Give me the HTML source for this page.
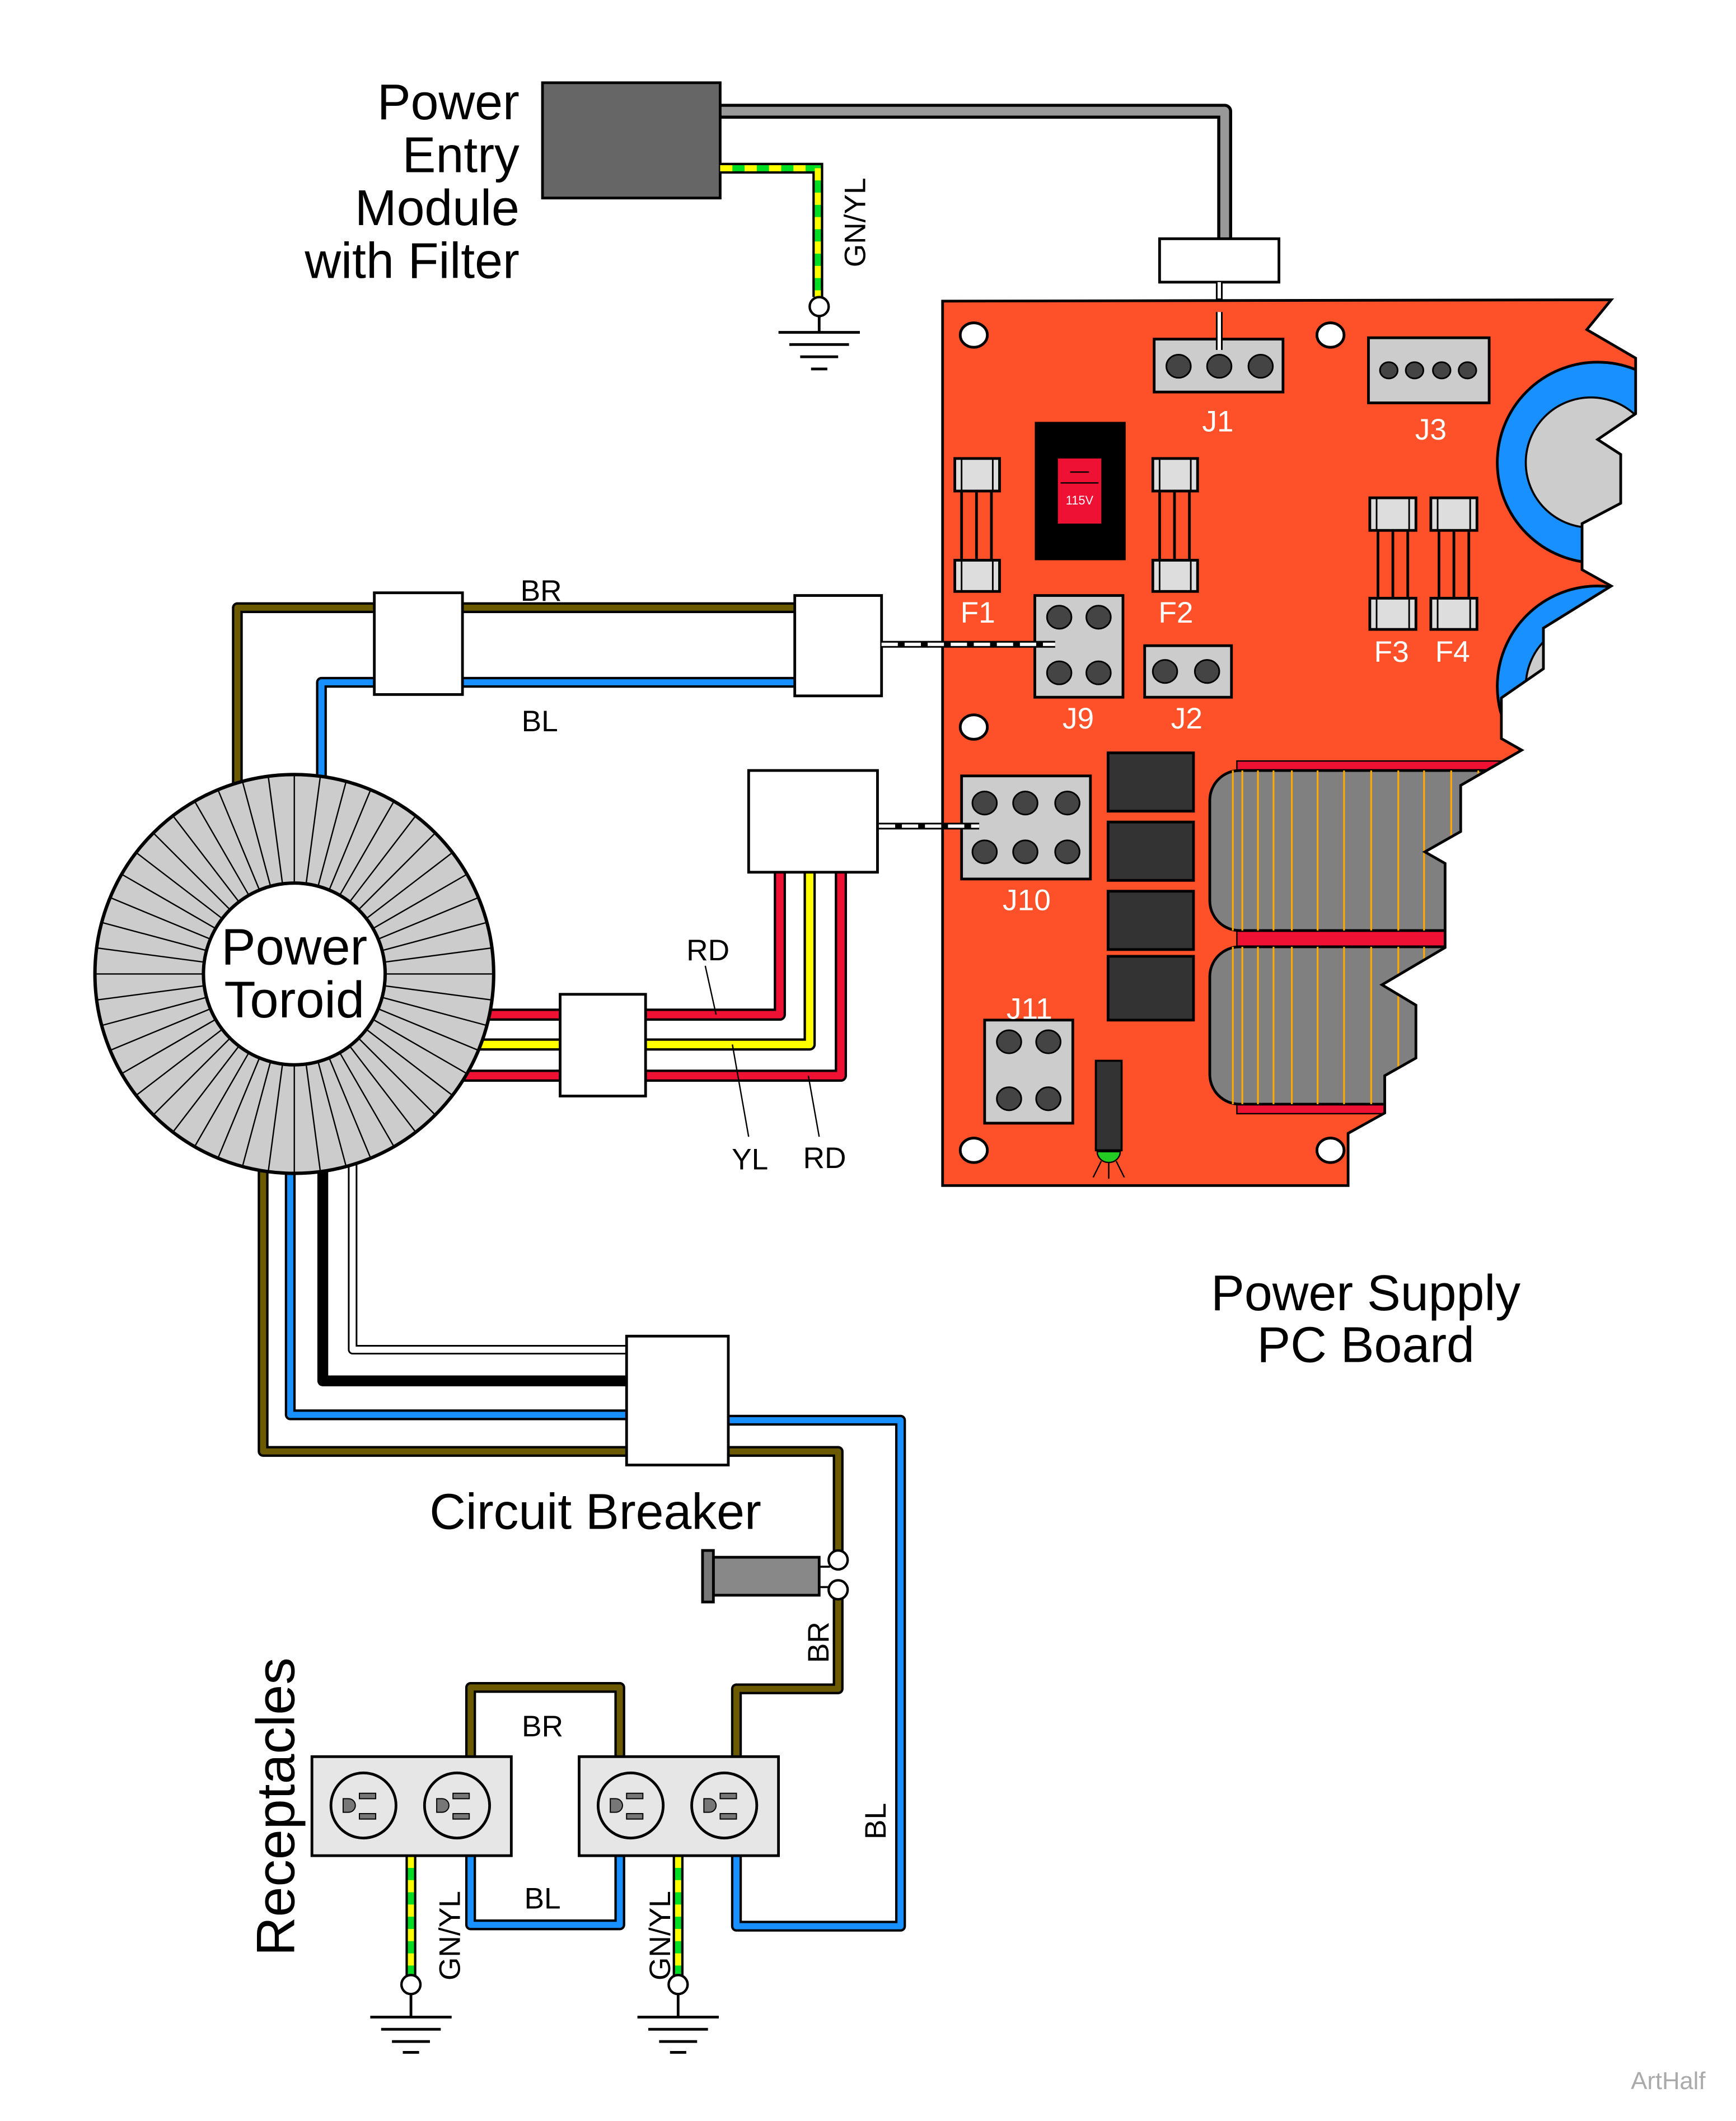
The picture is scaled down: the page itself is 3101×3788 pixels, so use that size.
<!DOCTYPE html>
<html><head><meta charset="utf-8"><style>html,body{margin:0;padding:0;background:#fff}svg{display:block}text{font-family:"Liberation Sans",Arial,sans-serif}</style></head>
<body>
<svg width="3101" height="3788" viewBox="0 0 1280 1563.6" preserveAspectRatio="none" xmlns="http://www.w3.org/2000/svg">
<defs>
<clipPath id="board"><polygon points="695,222 1188,221 1170,243 1206,264 1206,305 1178,324 1195,335 1195,371 1166.5,386 1166.5,420 1188,432 1138,463 1138,493 1107,514.5 1107,544.5 1122,553 1077,579 1077,613 1050.6,628 1065.5,636.5 1065.5,698.5 1019,726 1044,741 1044,780 1021,793 1021,820.5 994,835.5 994,874 695,874"/></clipPath>
</defs>
<rect width="1280" height="1564" fill="#fff"/>

<!-- Power entry module -->
<g font-size="37" text-anchor="end" fill="#000">
<text x="383" y="88">Power</text><text x="383" y="127">Entry</text><text x="383" y="166">Module</text><text x="383" y="205">with Filter</text>
</g>
<polyline points="531,82 903,82 903,178" fill="none" stroke="#000" stroke-width="11" stroke-linejoin="round"/>
<polyline points="531,82 903,82 903,178" fill="none" stroke="#999" stroke-width="6.5" stroke-linejoin="round"/>
<rect x="400" y="61" width="131" height="85" fill="#666" stroke="#000" stroke-width="2"/>
<rect x="855" y="176" width="88" height="32" fill="#fff" stroke="#000" stroke-width="2"/>
<line x1="899" y1="208" x2="899" y2="252" stroke="#000" stroke-width="5"/>
<line x1="899" y1="208" x2="899" y2="252" stroke="#fff" stroke-width="2.5" stroke-dasharray="12,5"/>
<!-- GN/YL top -->
<polyline points="531,124 603,124 603,219" fill="none" stroke="#000" stroke-width="8"/>
<polyline points="531,124 603,124 603,219" fill="none" stroke="#00dd22" stroke-width="4.5"/>
<polyline points="531,124 603,124 603,219" fill="none" stroke="#ffff00" stroke-width="4.5" stroke-dasharray="9,9"/>
<circle cx="604" cy="226" r="7" fill="#fff" stroke="#000" stroke-width="1.8"/>
<g stroke="#000" stroke-width="2"><line x1="604" y1="233" x2="604" y2="245"/><line x1="574" y1="245" x2="634" y2="245"/><line x1="582" y1="254" x2="626" y2="254"/><line x1="590" y1="263" x2="618" y2="263"/><line x1="598" y1="272" x2="610" y2="272"/></g>
<text transform="translate(638,197) rotate(-90)" font-size="22">GN/YL</text>

<!-- PCB -->
<g clip-path="url(#board)">
<rect x="695" y="222" width="520" height="652" fill="#ff5129"/>
<circle cx="1178" cy="341" r="74" fill="#1890ff" stroke="#000" stroke-width="2"/>
<circle cx="1173" cy="341" r="48" fill="#ccc" stroke="#000" stroke-width="1.5"/>
<circle cx="1178" cy="506" r="74" fill="#1890ff" stroke="#000" stroke-width="2"/>
<circle cx="1173" cy="506" r="48" fill="#ccc" stroke="#000" stroke-width="1.5"/>
<rect x="912" y="561" width="220" height="8" fill="#ee1133" stroke="#000" stroke-width="1"/>
<rect x="912" y="686" width="220" height="12" fill="#ee1133" stroke="#000" stroke-width="1"/>
<rect x="912" y="814" width="220" height="7" fill="#ee1133" stroke="#000" stroke-width="1"/>
<rect x="892" y="568" width="240" height="118" rx="22" fill="#808080" stroke="#000" stroke-width="2"/>
<rect x="892" y="698" width="240" height="116" rx="22" fill="#808080" stroke="#000" stroke-width="2"/>
<g stroke="#ffaa00" stroke-width="1.3">
<path d="M909 568V686M916 568V686M927.5 568V686M939 568V686M952.5 568V686M971.5 568V686M991 568V686M1011 568V686M1031 568V686M1050 568V686M1070 568V686M1090 568V686M1110 568V686"/>
<path d="M909 698V814M916 698V814M927.5 698V814M939 698V814M952.5 698V814M971.5 698V814M991 698V814M1011 698V814M1031 698V814M1050 698V814M1070 698V814"/>
</g>
</g>
<polygon points="695,222 1188,221 1170,243 1206,264 1206,305 1178,324 1195,335 1195,371 1166.5,386 1166.5,420 1188,432 1138,463 1138,493 1107,514.5 1107,544.5 1122,553 1077,579 1077,613 1050.6,628 1065.5,636.5 1065.5,698.5 1019,726 1044,741 1044,780 1021,793 1021,820.5 994,835.5 994,874 695,874" fill="none" stroke="#000" stroke-width="2"/>
<!-- holes -->
<g fill="#fff" stroke="#000" stroke-width="2">
<ellipse cx="718" cy="247" rx="10" ry="9"/><ellipse cx="981" cy="247" rx="10" ry="9"/><ellipse cx="718" cy="536" rx="10" ry="9"/><ellipse cx="718" cy="848" rx="10" ry="9"/><ellipse cx="981" cy="848" rx="10" ry="9"/>
</g>
<!-- ICs -->
<g fill="#333" stroke="#000" stroke-width="2">
<rect x="817" y="555" width="63" height="43"/><rect x="817" y="606" width="63" height="43"/><rect x="817" y="657" width="63" height="43"/><rect x="817" y="705" width="63" height="47"/>
</g>
<!-- connectors -->
<g fill="#ccc" stroke="#000" stroke-width="2">
<rect x="851" y="250" width="95" height="39"/><rect x="1009" y="249" width="89" height="48"/>
<rect x="763" y="439" width="65" height="75"/><rect x="844" y="476" width="64" height="38"/>
<rect x="709" y="572" width="95" height="76"/><rect x="726" y="752" width="65" height="76"/>
</g>
<g fill="#444" stroke="#000" stroke-width="1.2">
<ellipse cx="869" cy="270" rx="9" ry="8.5"/><ellipse cx="899" cy="270" rx="9" ry="8.5"/><ellipse cx="929.5" cy="270" rx="9" ry="8.5"/>
<ellipse cx="1024" cy="273" rx="6.5" ry="6"/><ellipse cx="1043" cy="273" rx="6.5" ry="6"/><ellipse cx="1063" cy="273" rx="6.5" ry="6"/><ellipse cx="1082" cy="273" rx="6.5" ry="6"/>
<ellipse cx="781" cy="455" rx="9" ry="8.5"/><ellipse cx="810" cy="455" rx="9" ry="8.5"/><ellipse cx="781" cy="496" rx="9" ry="8.5"/><ellipse cx="810" cy="496" rx="9" ry="8.5"/>
<ellipse cx="859" cy="495" rx="9" ry="8.5"/><ellipse cx="890" cy="495" rx="9" ry="8.5"/>
<ellipse cx="726" cy="592" rx="9" ry="8.5"/><ellipse cx="756" cy="592" rx="9" ry="8.5"/><ellipse cx="787" cy="592" rx="9" ry="8.5"/>
<ellipse cx="726" cy="628" rx="9" ry="8.5"/><ellipse cx="756" cy="628" rx="9" ry="8.5"/><ellipse cx="787" cy="628" rx="9" ry="8.5"/>
<ellipse cx="744" cy="768" rx="9" ry="8.5"/><ellipse cx="773" cy="768" rx="9" ry="8.5"/><ellipse cx="744" cy="810" rx="9" ry="8.5"/><ellipse cx="773" cy="810" rx="9" ry="8.5"/>
</g>
<line x1="899" y1="230" x2="899" y2="258" stroke="#000" stroke-width="5"/>
<line x1="899" y1="230" x2="899" y2="258" stroke="#fff" stroke-width="2.5"/>
<!-- switch -->
<rect x="763" y="311" width="67" height="102" fill="#000"/>
<rect x="780" y="338" width="32" height="48" fill="#ee1133"/>
<line x1="782" y1="356" x2="810" y2="356" stroke="#000" stroke-width="1"/>
<line x1="789" y1="348" x2="803" y2="348" stroke="#000" stroke-width="1"/>
<text x="796" y="372" font-size="9" fill="#fff" text-anchor="middle">115V</text>
<!-- fuses -->
<g stroke="#000" stroke-width="2" fill="none">
<path d="M709 362V413M720 362V413M731 362V413"/>
<path d="M855 362V413M866 362V413M877 362V413"/>
<path d="M1016 390V441M1027 390V441M1038 390V441"/>
<path d="M1061 390V441M1072 390V441M1083 390V441"/>
</g>
<g fill="#ddd" stroke="#000" stroke-width="2">
<rect x="704" y="338" width="33" height="24"/><rect x="704" y="413" width="33" height="23"/>
<rect x="850" y="338" width="33" height="24"/><rect x="850" y="413" width="33" height="23"/>
<rect x="1010" y="367" width="34" height="24"/><rect x="1010" y="441" width="34" height="23"/>
<rect x="1055" y="367" width="34" height="24"/><rect x="1055" y="441" width="34" height="23"/>
</g>
<g stroke="#000" stroke-width="1.2">
<path d="M709 338v24M732 338v24M709 413v23M732 413v23M855 338v24M878 338v24M855 413v23M878 413v23M1015 367v24M1039 367v24M1015 441v23M1039 441v23M1060 367v24M1084 367v24M1060 441v23M1084 441v23"/>
</g>
<!-- LED -->
<rect x="808" y="782" width="19" height="66" fill="#333" stroke="#000" stroke-width="1.5"/>
<path d="M809 849 A8.5 8 0 0 0 826 849Z" fill="#22cc22" stroke="#000" stroke-width="1"/>
<path d="M812 856 L806 868 M817.5 857 V869 M823 856 L829 868" stroke="#000" stroke-width="1"/>
<!-- PCB labels -->
<g fill="#fff" font-size="22" text-anchor="middle">
<text x="898" y="318">J1</text><text x="1055" y="324">J3</text>
<text x="721" y="459">F1</text><text x="867" y="459">F2</text><text x="1026" y="488">F3</text><text x="1071" y="488">F4</text>
<text x="795" y="537">J9</text><text x="875" y="537">J2</text><text x="757" y="671">J10</text><text x="759" y="751">J11</text>
</g>

<!-- BR / BL upper wires -->
<g fill="none" stroke-linejoin="round">
<polyline points="175,580 175,448 590,448" stroke="#000" stroke-width="8"/>
<polyline points="175,580 175,448 590,448" stroke="#6b5a00" stroke-width="4.5"/>
<polyline points="237,580 237,503 590,503" stroke="#000" stroke-width="8"/>
<polyline points="237,580 237,503 590,503" stroke="#1890ff" stroke-width="4.5"/>
</g>
<rect x="276" y="437" width="65" height="75" fill="#fff" stroke="#000" stroke-width="2"/>
<rect x="586" y="439" width="64" height="74" fill="#fff" stroke="#000" stroke-width="2"/>
<text x="399" y="443" font-size="22" text-anchor="middle">BR</text>
<text x="398" y="539" font-size="22" text-anchor="middle">BL</text>
<line x1="650" y1="475" x2="778" y2="475" stroke="#000" stroke-width="5"/>
<line x1="650" y1="475" x2="778" y2="475" stroke="#fff" stroke-width="2.5" stroke-dasharray="12,5"/>
<line x1="648" y1="609" x2="722" y2="609" stroke="#000" stroke-width="5"/>
<line x1="648" y1="609" x2="722" y2="609" stroke="#fff" stroke-width="2.5" stroke-dasharray="12,5"/>

<!-- RD/YL wires -->
<g fill="none" stroke-linejoin="round">
<polyline points="340,748 575,748 575,640" stroke="#000" stroke-width="9"/>
<polyline points="340,748 575,748 575,640" stroke="#ee1133" stroke-width="5.5"/>
<polyline points="340,770 597,770 597,640" stroke="#000" stroke-width="9"/>
<polyline points="340,770 597,770 597,640" stroke="#ffff00" stroke-width="5.5"/>
<polyline points="340,793 620,793 620,640" stroke="#000" stroke-width="9"/>
<polyline points="340,793 620,793 620,640" stroke="#ee1133" stroke-width="5.5"/>
</g>
<rect x="552" y="568" width="95" height="75" fill="#fff" stroke="#000" stroke-width="2"/>
<rect x="413" y="733" width="63" height="75" fill="#fff" stroke="#000" stroke-width="2"/>
<g stroke="#000" stroke-width="1"><line x1="520" y1="712" x2="528" y2="748"/><line x1="540" y1="770" x2="552" y2="838"/><line x1="596" y1="793" x2="604" y2="838"/></g>
<g font-size="22" text-anchor="middle"><text x="522" y="708">RD</text><text x="553" y="862">YL</text><text x="608" y="861">RD</text></g>

<!-- bottom wires from toroid -->
<g fill="none" stroke-linejoin="round">
<polyline points="194,850 194,1070 470,1070" stroke="#000" stroke-width="8"/>
<polyline points="194,850 194,1070 470,1070" stroke="#6b5a00" stroke-width="4.5"/>
<polyline points="214,850 214,1043 470,1043" stroke="#000" stroke-width="8"/>
<polyline points="214,850 214,1043 470,1043" stroke="#1890ff" stroke-width="4.5"/>
<polyline points="238,850 238,1018 470,1018" stroke="#000" stroke-width="8"/>
<polyline points="260,850 260,995 470,995" stroke="#000" stroke-width="7"/>
<polyline points="260,850 260,995 470,995" stroke="#fff" stroke-width="4.5"/>
<polyline points="530,1047 664,1047 664,1420 543,1420 543,1360" stroke="#000" stroke-width="8"/>
<polyline points="530,1047 664,1047 664,1420 543,1420 543,1360" stroke="#1890ff" stroke-width="4.5"/>
<polyline points="530,1070 618,1070 618,1150" stroke="#000" stroke-width="8"/>
<polyline points="530,1070 618,1070 618,1150" stroke="#6b5a00" stroke-width="4.5"/>
<polyline points="618,1175 618,1245 543,1245 543,1300" stroke="#000" stroke-width="8"/>
<polyline points="618,1175 618,1245 543,1245 543,1300" stroke="#6b5a00" stroke-width="4.5"/>
<polyline points="347,1300 347,1244 457,1244 457,1300" stroke="#000" stroke-width="8"/>
<polyline points="347,1300 347,1244 457,1244 457,1300" stroke="#6b5a00" stroke-width="4.5"/>
<polyline points="347,1360 347,1419 457,1419 457,1360" stroke="#000" stroke-width="8"/>
<polyline points="347,1360 347,1419 457,1419 457,1360" stroke="#1890ff" stroke-width="4.5"/>
</g>
<rect x="462" y="985" width="75" height="95" fill="#fff" stroke="#000" stroke-width="2"/>

<!-- Toroid -->
<circle cx="217" cy="718" r="147" fill="#ccc" stroke="#000" stroke-width="2.5"/>
<g stroke="#000" stroke-width="1" id="spokes">
<path d="M217 571V651M217 785V865M70 718H150M284 718H364
M236.2 572.3L225.7 651.6M197.8 863.7L208.3 784.4
M255 576.9L234.3 654.2M179 859.1L199.7 781.8
M273.3 582.2L242.7 656.1M160.7 853.8L191.3 779.9
M290.5 590.7L250.5 660M143.5 845.3L183.5 776
M306.5 601.4L257.8 664.9M127.5 834.6L176.2 771.1
M320.9 614.1L264.4 670.6M113.1 821.9L169.6 765.4
M333.6 628.5L270.1 677.2M100.4 807.5L163.9 758.8
M344.3 644.5L275 684.5M89.7 791.5L159 751.5
M352.8 661.7L278.9 692.3M81.2 774.3L155.1 743.7
M359.1 680L281.8 700.7M74.9 756L152.2 735.3
M362.7 698.8L283.4 709.3M71.3 737.2L150.6 726.7
M362.7 737.2L283.4 726.7M71.3 698.8L150.6 709.3
M359.1 756L281.8 735.3M74.9 680L152.2 700.7
M352.8 774.3L278.9 743.7M81.2 661.7L155.1 692.3
M344.3 791.5L275 751.5M89.7 644.5L159 684.5
M333.6 807.5L270.1 758.8M100.4 628.5L163.9 677.2
M320.9 821.9L264.4 765.4M113.1 614.1L169.6 670.6
M306.5 834.6L257.8 771.1M127.5 601.4L176.2 664.9
M290.5 845.3L250.5 776M143.5 590.7L183.5 660
M273.3 853.8L242.7 779.9M160.7 582.2L191.3 656.1
M255 859.1L234.3 781.8M179 576.9L199.7 654.2
M236.2 863.7L225.7 784.4M197.8 572.3L208.3 651.6"/>
</g>
<circle cx="217" cy="718" r="67" fill="#fff" stroke="#000" stroke-width="2.5"/>
<text x="217" y="711" font-size="38" text-anchor="middle">Power</text>
<text x="217" y="750" font-size="38" text-anchor="middle">Toroid</text>

<!-- Circuit breaker -->
<text x="439" y="1127" font-size="37" text-anchor="middle">Circuit Breaker</text>
<rect x="526" y="1148" width="78" height="28" fill="#888" stroke="#000" stroke-width="2"/>
<rect x="518" y="1143" width="8" height="38" fill="#777" stroke="#000" stroke-width="2"/>
<line x1="604" y1="1155" x2="612" y2="1155" stroke="#000" stroke-width="1.5"/>
<line x1="604" y1="1170" x2="612" y2="1170" stroke="#000" stroke-width="1.5"/>
<circle cx="618" cy="1150" r="7" fill="#fff" stroke="#000" stroke-width="1.8"/>
<circle cx="618" cy="1172" r="7" fill="#fff" stroke="#000" stroke-width="1.8"/>
<text transform="translate(611,1226) rotate(-90)" font-size="22">BR</text>
<text transform="translate(653,1356) rotate(-90)" font-size="22">BL</text>
<text x="400" y="1280" font-size="22" text-anchor="middle">BR</text>
<text x="400" y="1407" font-size="22" text-anchor="middle">BL</text>

<!-- GN/YL bottom -->
<g fill="none">
<line x1="303" y1="1368" x2="303" y2="1457" stroke="#000" stroke-width="8"/>
<line x1="303" y1="1368" x2="303" y2="1457" stroke="#00dd22" stroke-width="4.5"/>
<line x1="303" y1="1368" x2="303" y2="1457" stroke="#ffff00" stroke-width="4.5" stroke-dasharray="9,9"/>
<line x1="500" y1="1368" x2="500" y2="1457" stroke="#000" stroke-width="8"/>
<line x1="500" y1="1368" x2="500" y2="1457" stroke="#00dd22" stroke-width="4.5"/>
<line x1="500" y1="1368" x2="500" y2="1457" stroke="#ffff00" stroke-width="4.5" stroke-dasharray="9,9"/>
</g>
<circle cx="303" cy="1463" r="7" fill="#fff" stroke="#000" stroke-width="1.8"/>
<circle cx="500" cy="1463" r="7" fill="#fff" stroke="#000" stroke-width="1.8"/>
<g stroke="#000" stroke-width="2">
<line x1="303" y1="1470" x2="303" y2="1487"/><line x1="273" y1="1487" x2="333" y2="1487"/><line x1="281" y1="1496" x2="325" y2="1496"/><line x1="289" y1="1505" x2="317" y2="1505"/><line x1="297" y1="1513" x2="309" y2="1513"/>
<line x1="500" y1="1470" x2="500" y2="1487"/><line x1="470" y1="1487" x2="530" y2="1487"/><line x1="478" y1="1496" x2="522" y2="1496"/><line x1="486" y1="1505" x2="514" y2="1505"/><line x1="494" y1="1513" x2="506" y2="1513"/>
</g>
<text transform="translate(339,1460) rotate(-90)" font-size="22">GN/YL</text>
<text transform="translate(494,1460) rotate(-90)" font-size="22">GN/YL</text>

<!-- Receptacles -->
<rect x="230" y="1295" width="147" height="73" fill="#e6e6e6" stroke="#000" stroke-width="2"/>
<rect x="427" y="1295" width="147" height="73" fill="#e6e6e6" stroke="#000" stroke-width="2"/>
<g id="o">
<g fill="#e6e6e6" stroke="#000" stroke-width="2">
<circle cx="268" cy="1331" r="24"/><circle cx="337" cy="1331" r="24"/><circle cx="465" cy="1331" r="24"/><circle cx="534" cy="1331" r="24"/>
</g>
<g fill="#777" stroke="#000" stroke-width="0.8">
<rect x="265" y="1322" width="12" height="4"/><rect x="265" y="1337" width="12" height="4"/><path d="M253 1326h4a5 5 0 0 1 0 10h-4z"/>
<rect x="334" y="1322" width="12" height="4"/><rect x="334" y="1337" width="12" height="4"/><path d="M322 1326h4a5 5 0 0 1 0 10h-4z"/>
<rect x="462" y="1322" width="12" height="4"/><rect x="462" y="1337" width="12" height="4"/><path d="M450 1326h4a5 5 0 0 1 0 10h-4z"/>
<rect x="531" y="1322" width="12" height="4"/><rect x="531" y="1337" width="12" height="4"/><path d="M519 1326h4a5 5 0 0 1 0 10h-4z"/>
</g>
</g>
<text transform="translate(217,1442) rotate(-90)" font-size="40">Receptacles</text>

<text x="1007" y="966" font-size="37" text-anchor="middle">Power Supply</text>
<text x="1007" y="1004" font-size="37" text-anchor="middle">PC Board</text>
<text x="1230" y="1540" font-size="18" fill="#aaa" text-anchor="middle">ArtHalf</text>
</svg>
</body></html>
